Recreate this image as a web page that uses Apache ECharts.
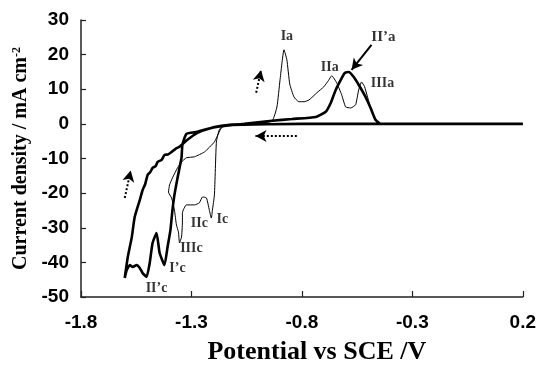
<!DOCTYPE html>
<html>
<head>
<meta charset="utf-8">
<script src="https://cdn.jsdelivr.net/npm/echarts@6/dist/echarts.min.js"></script>
<style>
html,body{margin:0;padding:0;background:#fff;}
#chart{width:539px;height:376px;}
</style>
</head>
<body>
<div id="chart"></div>
<script>
// Axis ticks
var xTicks = [-1.8, -1.3, -0.8, -0.3, 0.2];
var yTicks = [-50, -40, -30, -20, -10, 0, 10, 20, 30];

// Thin curve (first scan): potential (V) and current density (mA cm-2)
var thinPotential = [0.2, -0.3, -0.8, -1.10, -1.151, -1.174, -1.187, -1.196, -1.205, -1.210, -1.219, -1.232, -1.250, -1.264, -1.286, -1.323, -1.341, -1.341, -1.345, -1.354, -1.359, -1.368, -1.377, -1.390, -1.404, -1.399, -1.386, -1.363, -1.345, -1.323, -1.286, -1.241, -1.196, -1.165, -1.138, -1.06, -0.994, -0.935, -0.913, -0.899, -0.881, -0.868, -0.855, -0.836, -0.814, -0.790, -0.768, -0.732, -0.701, -0.680, -0.665, -0.642, -0.620, -0.602, -0.579, -0.557, -0.543, -0.530, -0.516, -0.489, -0.467, -0.444, -0.40, -0.3, 0.0, 0.2];
var thinCurrent   = [0, 0, 0, 0, -0.3, -1.7, -5.2, -20.5, -24.9, -27.2, -24.9, -21.4, -21.1, -22.8, -23.4, -23.4, -25.7, -28.6, -32.7, -34.4, -31.2, -29.2, -24.9, -21.4, -19.7, -17.6, -15.6, -12.7, -11.0, -9.8, -9.5, -8.1, -5.2, -1.2, -0.3, 0, 0.2, 0.8, 4.9, 12.7, 21.4, 18.5, 11.5, 7.8, 6.4, 6.4, 6.9, 9.0, 10.7, 12.5, 13.9, 11.8, 8.4, 4.9, 4.6, 5.5, 9.8, 12.1, 10.7, 4.6, 1.2, 0, 0, 0, 0, 0];

// Thick curve (later scan)
var thickPotential = [0.2, -0.3, -0.8, -1.120, -1.196, -1.273, -1.323, -1.341, -1.345, -1.363, -1.377, -1.386, -1.395, -1.408, -1.422, -1.444, -1.458, -1.476, -1.489, -1.503, -1.521, -1.534, -1.548, -1.566, -1.579, -1.593, -1.602, -1.588, -1.570, -1.557, -1.534, -1.521, -1.510, -1.498, -1.487, -1.476, -1.462, -1.453, -1.435, -1.422, -1.405, -1.390, -1.372, -1.354, -1.318, -1.273, -1.210, -1.151, -1.061, -0.935, -0.845, -0.737, -0.692, -0.669, -0.647, -0.624, -0.606, -0.588, -0.566, -0.543, -0.512, -0.489, -0.467, -0.444, -0.40, -0.3, 0.0, 0.2];
var thickCurrent   = [0, 0, 0, -0.3, -0.9, -2.3, -2.9, -6.1, -9.8, -15.6, -20.5, -24.9, -30.6, -35.5, -40.8, -37.3, -31.5, -34.4, -40.2, -44.2, -43.1, -41.6, -40.8, -41.3, -40.8, -42.2, -44.5, -38.4, -32.7, -26.9, -22.0, -19.1, -17.5, -14.7, -14.0, -12.7, -12.2, -11.0, -10.4, -9.0, -8.8, -8.1, -7.2, -6.6, -4.6, -2.6, -1.2, -0.6, 0, 0.9, 1.4, 2.0, 3.5, 6.1, 9.8, 12.7, 14.7, 15.0, 13.6, 11.3, 7.8, 4.6, 1.2, 0, 0, 0, 0, 0];

// Peak annotations
var peakNames = ['Ia', 'IIa', 'IIIa', 'Ic', 'IIc', 'IIIc', "I\u2019c", "II\u2019c"];
var peakX     = [-0.868, -0.674, -0.435, -1.160, -1.264, -1.300, -1.363, -1.458];
var peakY     = [25.4, 16.2, 11.8, -27.5, -28.6, -36.1, -41.6, -47.4];
var bigName = "II\u2019a";
var bigX = -0.431, bigY = 25.1;

// Arrow (II'a label to peak) and dotted scan-direction arrows: [x1, y1, x2, y2]
var solidArrow = [-0.485, 22.8, -0.575, 15.6];
var dottedArrows = [
  [-1.007, 9.0, -0.985, 15.5],
  [-0.823, -3.5, -1.010, -3.5],
  [-1.602, -21.4, -1.575, -13.5]
];

function zip(a, b) { return a.map(function (v, i) { return [v, b[i]]; }); }

var chart = echarts.init(document.getElementById('chart'), null, {renderer: 'canvas'});

var sansBold = {fontFamily: 'Liberation Sans, Arial, sans-serif', fontWeight: 'bold', fontSize: 19, color: '#000'};
var serifBold = {fontFamily: 'Liberation Serif, Times New Roman, serif', fontWeight: 'bold', color: '#000'};

var labelData = peakNames.map(function (n, i) {
  return {name: n, value: [peakX[i], peakY[i]]};
});
labelData.push({name: bigName, value: [bigX, bigY], label: {fontSize: 15}});

var option = {
  animation: false,
  backgroundColor: '#fff',
  grid: {left: 81, right: 14, top: 20, bottom: 79, containLabel: false},
  xAxis: {
    type: 'value', min: -1.8, max: 0.2, interval: 0.5,
    name: 'Potential vs SCE /V',
    nameLocation: 'middle', nameGap: 42,
    nameTextStyle: Object.assign({fontSize: 26, padding: [0, 0, 0, 30]}, serifBold),
    axisLine: {show: true, onZero: false, lineStyle: {color: '#222', width: 1.5}},
    axisTick: {show: true, inside: true, length: 6, lineStyle: {color: '#222', width: 1.2}},
    axisLabel: Object.assign({margin: 16, formatter: function (v) { return v.toFixed(1); }}, sansBold),
    splitLine: {show: false}
  },
  yAxis: {
    type: 'value', min: -50, max: 30, interval: 10,
    name: 'Current density / mA cm{sup|-2}',
    nameLocation: 'middle', nameGap: 47, nameRotate: 90,
    nameTextStyle: Object.assign({fontSize: 20, rich: {sup: {fontSize: 12, fontFamily: 'Liberation Serif', fontWeight: 'bold', verticalAlign: 'top', color: '#000'}}}, serifBold),
    axisLine: {show: true, onZero: false, lineStyle: {color: '#222', width: 1.5}},
    axisTick: {show: true, inside: true, length: 5, lineStyle: {color: '#222', width: 1.2}},
    axisLabel: Object.assign({margin: 12}, sansBold),
    splitLine: {show: false}
  },
  series: [
    {
      name: 'thin', type: 'line', data: zip(thinPotential, thinCurrent),
      showSymbol: false, symbol: 'none', smooth: 0.15,
      lineStyle: {color: '#000', width: 1}
    },
    {
      name: 'thick', type: 'line', data: zip(thickPotential, thickCurrent),
      showSymbol: false, symbol: 'none', smooth: 0.15,
      lineStyle: {color: '#000', width: 2.6}
    },
    {
      name: 'labels', type: 'scatter', data: labelData, symbolSize: 0,
      label: Object.assign({show: true, position: 'inside', fontSize: 14, formatter: '{b}'}, serifBold),
      silent: true,
      markLine: {
        silent: true, animation: false,
        symbol: ['none', 'arrow'], symbolSize: [9, 11],
        label: {show: false},
        data: [
          [{coord: [solidArrow[0], solidArrow[1]], lineStyle: {type: 'solid', width: 2, color: '#000'}},
           {coord: [solidArrow[2], solidArrow[3]]}]
        ].concat(dottedArrows.map(function (a) {
          return [{coord: [a[0], a[1]], lineStyle: {type: [2, 2], width: 2, color: '#000'}, symbolSize: [8, 9]},
                  {coord: [a[2], a[3]]}];
        }))
      }
    }
  ]
};
chart.setOption(option);
</script>
</body>
</html>
